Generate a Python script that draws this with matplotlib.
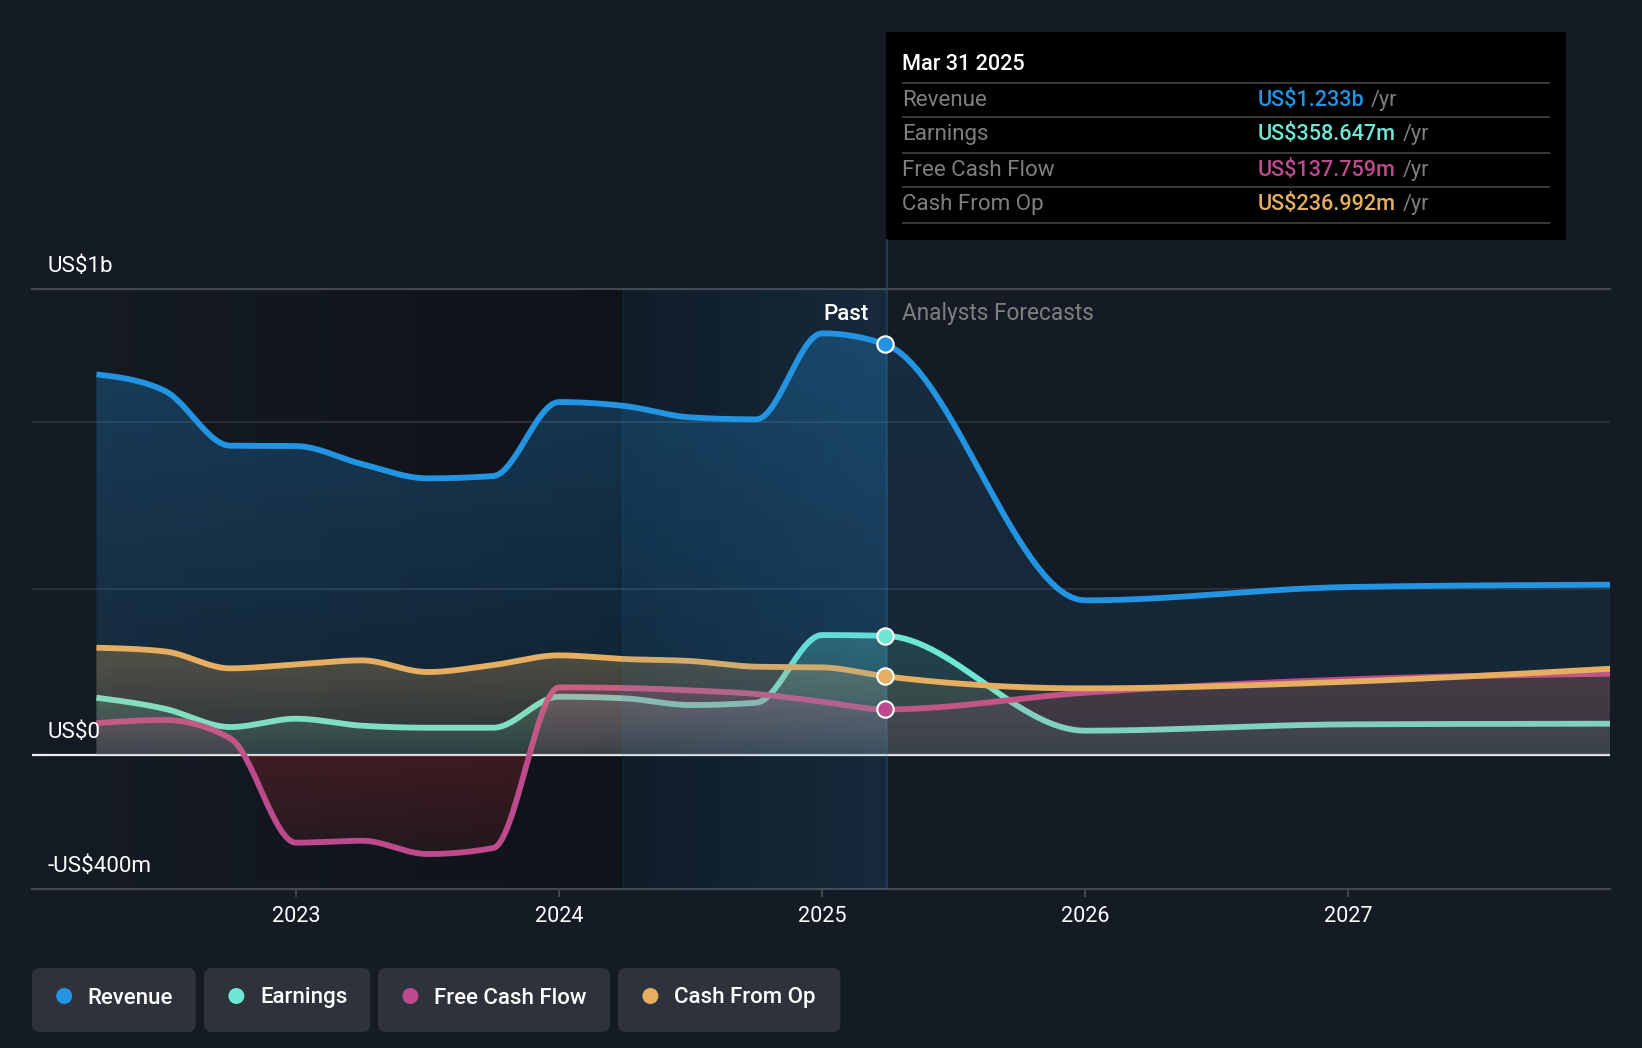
import numpy as np
import matplotlib
matplotlib.use("Agg")
import matplotlib.pyplot as plt
from matplotlib.colors import to_rgb
from matplotlib.patches import FancyBboxPatch, Circle, Rectangle

plt.rcParams['font.family'] = ['Roboto', 'DejaVu Sans']

# dates as decimal years, quarterly for the past and yearly for the forecast
dates = [2022.241, 2022.5, 2022.75, 2023.0, 2023.25, 2023.5, 2023.75, 2024.0,
         2024.25, 2024.5, 2024.75, 2025.0, 2025.241, 2026.0, 2027.0, 2028.0]

# all values in US$ millions
revenue = [1143, 1094, 929, 928, 874, 831, 838, 1060, 1048, 1014, 1008, 1266, 1233, 465, 505, 512]
earnings = [173, 140, 85, 110, 89, 83, 83, 176, 171, 151, 158, 361, 358.6, 74, 93, 95]
free_cash_flow = [97, 106, 51, -262, -256, -296, -278, 204, 202, 195, 184, 161, 137.8, 188, 228, 245]
cash_from_op = [323, 312, 261, 273, 285, 250, 271, 300, 289, 283, 266, 264, 237, 201, 221, 260]

series_names = ['Revenue', 'Earnings', 'Free Cash Flow', 'Cash From Op']
series_colors = ['#2394e2', '#6ee7d4', '#bd4a8c', '#e5ae60']
tooltip_values = ['US$1.233b', 'US$358.647m', 'US$137.759m', 'US$236.992m']
year_ticks = [2023, 2024, 2025, 2026, 2027]

BG = '#151b24'
FS = 15.6
FS_WIDE = 16.1
BAND_START = 2024.245
PAST_END = 2025.247
X_LEFT, X_RIGHT = 2021.996, 2027.996


def monotone_curve(xs, ys, n=30):
    # same idea as d3 curveMonotoneX, only used to draw between the read values
    xs, ys = np.array(xs, float), np.array(ys, float)
    h = np.diff(xs)
    s = np.diff(ys) / h
    m = np.zeros(len(xs))
    for i in range(1, len(xs) - 1):
        p = (s[i - 1] * h[i] + s[i] * h[i - 1]) / (h[i - 1] + h[i])
        m[i] = (np.sign(s[i - 1]) + np.sign(s[i])) * min(abs(s[i - 1]), abs(s[i]), 0.5 * abs(p))
    m[0] = (3 * s[0] - m[1]) / 2
    m[-1] = (3 * s[-1] - m[-2]) / 2
    out_x, out_y = [], []
    for i in range(len(h)):
        t = np.linspace(0, 1, n, endpoint=False)
        a = 2 * t**3 - 3 * t**2 + 1
        b = t**3 - 2 * t**2 + t
        c = -2 * t**3 + 3 * t**2
        d = t**3 - t**2
        out_x.append(xs[i] + t * h[i])
        out_y.append(a * ys[i] + b * h[i] * m[i] + c * ys[i + 1] + d * h[i] * m[i + 1])
    return np.append(np.concatenate(out_x), xs[-1]), np.append(np.concatenate(out_y), ys[-1])


def gradient_fill(ax, x, y, color, past_alpha, future_alpha, z):
    # vertical fade between the curve and zero, clipped to the area under the curve,
    # the forecast part of the area is weaker than the past part
    poly = ax.fill_between(x, y, 0, facecolor='none', edgecolor='none')
    low, high = min(y.min(), 0), max(y.max(), 0)
    col_x = np.linspace(x[0], x[-1], 1500)
    rgba = np.zeros((200, 1500, 4))
    rgba[..., :3] = to_rgb(color)
    fade = np.linspace(0, 1, 200)[:, None]
    if high <= 0:
        fade = fade[::-1]
    past = past_alpha[1] + (past_alpha[0] - past_alpha[1]) * fade
    future = future_alpha[1] + (future_alpha[0] - future_alpha[1]) * fade
    rgba[..., 3] = np.where(col_x <= PAST_END, past, future)
    if high <= 0:
        rgba[..., 3] = rgba[..., 3][::-1]
    im = ax.imshow(rgba, extent=[x[0], x[-1], low, high], origin='lower', aspect='auto',
                   zorder=z, interpolation='nearest')
    im.set_clip_path(poly.get_paths()[0], ax.transData)


def h_gradient(ax, x0, x1, color, a0, a1, z):
    rgba = np.zeros((2, 200, 4))
    rgba[..., :3] = to_rgb(color)
    rgba[..., 3] = np.linspace(a0, a1, 200)[None, :]
    ax.imshow(rgba, extent=[x0, x1, -400, 1400], origin='lower', aspect='auto', zorder=z)


W, H = 1642, 1048
fig = plt.figure(figsize=(W / 100, H / 100), dpi=100, facecolor=BG)
ax = fig.add_axes([32 / W, 1 - 888.7 / H, 1578 / W, 600 / H])
ax.set_facecolor('none')
for sp in ax.spines.values():
    sp.set_visible(False)

# dark part of the past, then the last-twelve-months band goes on top of the lines
h_gradient(ax, 2022, BAND_START, '#000000', 0.0, 0.3, 0.5)
h_gradient(ax, BAND_START, PAST_END, '#000000', 0.3, 0.0, 0.5)
h_gradient(ax, BAND_START, PAST_END, '#2394e2', 0.08, 0.13, 6)

for gy in [500, 1000]:
    ax.axhline(gy, color='#2b3038', lw=1.4, zorder=1)
ax.axhline(1400, color='#43474f', lw=1.6, zorder=1, clip_on=False)
ax.axhline(-400, color='#43474f', lw=1.6, zorder=1, clip_on=False)
ax.axhline(0, color='#eeeeee', lw=1.6, zorder=1.5)

all_series = [revenue, earnings, free_cash_flow, cash_from_op]
for i, (vals, col) in enumerate(zip(all_series, series_colors)):
    x, y = monotone_curve(dates, vals)
    z = 2 + i
    gradient_fill(ax, x, np.maximum(y, 0), col, (0.3, 0.1), (0.15, 0.09), z)
    if min(vals) < 0:
        gradient_fill(ax, x, np.minimum(y, 0), '#d03030', (0.24, 0.1), (0.24, 0.1), z)
    ax.plot(x, y, color=col, lw=4.2, solid_capstyle='butt', solid_joinstyle='round', zorder=z + 0.1)
    dot, = ax.plot([dates[12]], [vals[12]], 'o', ms=11.8, mfc=col, mec='white', mew=1.5, zorder=8, clip_on=False)
    dot.set_snap(False)

ax.axvline(BAND_START, color='#2394e2', alpha=0.12, lw=1.2, zorder=6.5)
ax.axvline(PAST_END, color='#2394e2', alpha=0.28, lw=1.2, zorder=6.5)

ax.set_xlim(X_LEFT, X_RIGHT)
ax.set_ylim(-400, 1400)
ax.set_yticks([])
ax.set_xticks(year_ticks)
ax.set_xticklabels([str(t) for t in year_ticks], color='white', fontsize=FS)
ax.tick_params(axis='x', length=6, width=1.4, color='#43474f', pad=6.7)

# everything outside the plot is placed in pixels of the picture
ov = fig.add_axes([0, 0, 1, 1], zorder=10)
ov.set_xlim(0, W)
ov.set_ylim(H, 0)
ov.axis('off')
ov.patch.set_alpha(0)

ov.plot([886.5, 886.5], [240, 289], color='#1f4563', lw=1.2)
ov.add_patch(Rectangle((886, 32.3), 679.5, 207.4, color='black', lw=0))
for ly in [83, 116.7, 152.7, 186.7, 222.7]:
    ov.plot([902.5, 1548.5], [ly, ly], color='#3a3a3a', lw=1.4)

ov.text(902.5, 70, 'Mar 31 2025', color='white', fontsize=FS, va='baseline', fontweight='medium')
row_y = [106, 140.3, 176, 210.3]
yr_x = [1370.6, 1402.7, 1402.7, 1402.7]
for name, val, col, ry, yx in zip(series_names, tooltip_values, series_colors, row_y, yr_x):
    ov.text(902.5, ry, name, color='#7f7f7f', fontsize=FS_WIDE, va='baseline')
    ov.text(1258, ry, val, color=col, fontsize=FS, va='baseline', fontweight='medium')
    ov.text(yx, ry, '/yr', color='#7f7f7f', fontsize=FS, va='baseline')

ov.text(869.2, 320, 'Past', color='white', fontsize=FS_WIDE, ha='right', va='baseline', fontweight='medium')
ov.text(902.5, 320, 'Analysts Forecasts', color='#7f7f7f', fontsize=FS_WIDE + 0.2, va='baseline')
ov.text(47.5, 272, 'US$1b', color='white', fontsize=FS_WIDE, va='baseline')
ov.text(47.5, 738, 'US$0', color='white', fontsize=FS_WIDE, va='baseline')
ov.text(47.5, 871.7, '-US$400m', color='white', fontsize=FS_WIDE, va='baseline')

# legend chips
chips = [(31.8, 195.8), (204, 370.3), (378, 610), (618, 840.4)]
for (c0, c1), name, col in zip(chips, series_names, series_colors):
    ov.add_patch(FancyBboxPatch((c0 + 8, 976), c1 - c0 - 16, 48, boxstyle='round,pad=8,rounding_size=8',
                                fc='#2d323b', ec='none'))
    ov.add_patch(Circle((c0 + 32.4, 996), 8, fc=col, ec='none'))
    ov.text(c0 + 56, 1003.5, name, color='white', fontsize=16.0, va='baseline', fontweight='medium')

fig.savefig('out.png', dpi=100, facecolor=BG)
